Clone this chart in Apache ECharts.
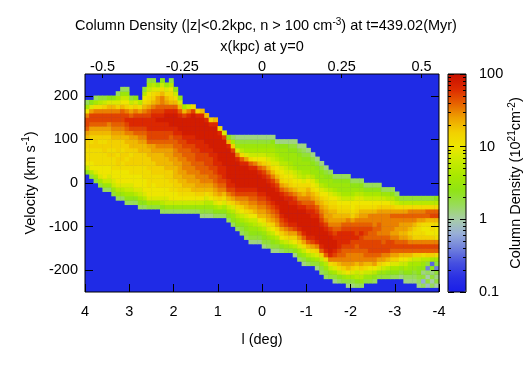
<!DOCTYPE html>
<html>
<head>
<meta charset="utf-8">
<style>
    html, body { margin: 0; padding: 0; background: #fff; }
    #chart { width: 525px; height: 367px; }
</style>
</head>
<body>
<div id="chart"></div>
<script src="https://cdn.jsdelivr.net/npm/echarts@6/dist/echarts.min.js"></script>
<script>
// Tick labels
const lTicks = [4, 3, 2, 1, 0, -1, -2, -3, -4];
const kpcTicks = [-0.5, -0.25, 0, 0.25, 0.5];
const velocityTicks = [-200, -100, 0, 100, 200];
const barMajor = [-1, 0, 1, 2];
const barMinor = [-0.699, -0.523, -0.398, -0.301, -0.222, -0.155, -0.097, -0.046,
    0.301, 0.477, 0.602, 0.699, 0.778, 0.845, 0.903, 0.954,
    1.301, 1.477, 1.602, 1.699, 1.778, 1.845, 1.903, 1.954];

// Column density, in tenths of a dex (0 = 1, 10 = 10, 20 = 100).
// One array per 0.1 deg column from l = 3.95 to l = -3.95, lowest velocity first.
// lowV is the velocity of the first cell of each column, cells are 10 km/s tall.
const lowV = [25, 15, 5, -5, -15, -15, -25, -35, -35, -45,
    -45, -45, -55, -55, -55, -55, -55, -65, -65, -65,
    -65, -65, -65, -65, -65, -65, -75, -75, -75, -75,
    -75, -75, -85, -95, -105, -115, -125, -135, -135, -135,
    -145, -145, -155, -155, -155, -155, -155, -165, -175, -185,
    -185, -185, -195, -205, -215, -215, -225, -225, -225, -235,
    -235, -235, -235, -225, -225, -225, -215, -215, -215, -215,
    -215, -215, -225, -225, -225, -235, -235, -235, -235, -235];
const c00 = [4,8,10,11,11,11,12,12,13,14,16,17,17,15,10,6,2];
const c01 = [3,7,10,10,11,11,11,12,11,12,13,14,16,17,17,14,9,4];
const c02 = [3,6,9,10,11,11,11,11,12,12,12,13,14,16,17,17,15,11,6,2];
const c03 = [3,6,9,10,10,11,11,11,11,12,11,12,13,14,16,17,17,15,11,7,3];
const c04 = [2,5,8,10,10,10,11,11,11,12,12,11,12,13,14,16,17,17,15,12,8,3];
const c05 = [2,5,8,9,10,10,11,11,12,11,12,12,12,13,14,15,17,17,15,13,9,4];
const c06 = [3,5,8,9,10,10,11,11,11,12,11,12,12,13,14,15,16,17,17,15,13,9,4];
const c07 = [2,5,7,9,10,10,10,11,12,12,11,12,12,12,13,14,15,16,17,17,15,12,9,6,2];
const c08 = [2,5,7,9,10,10,10,11,11,12,12,11,12,12,13,14,15,16,17,17,16,13,10,8,5,2];
const c09 = [2,4,6,8,9,10,10,10,11,12,11,12,12,12,13,13,15,16,17,18,17,15,12,10,8,5,2];
const c10 = [2,4,6,8,9,10,10,11,11,12,12,11,12,13,13,14,15,17,18,18,16,14,11,8,3];
const c11 = [2,4,7,9,10,10,10,11,11,12,12,12,12,13,13,14,16,17,18,18,17,15,12,9,4];
const c12 = [2,4,6,8,9,10,10,10,11,11,12,12,12,13,13,14,15,16,17,18,18,17,14,11,7];
const c13 = [2,4,7,9,10,10,10,11,11,11,12,12,12,13,13,14,15,16,17,18,18,17,15,13,11,10,7,3];
const c14 = [3,6,9,10,10,11,11,11,11,12,12,12,13,13,14,16,17,17,18,18,18,17,16,14,12,11,10,8,6,3];
const c15 = [3,6,9,10,10,10,11,11,12,12,12,13,13,14,14,16,17,17,18,18,18,18,17,15,13,12,11,9,7,3];
const c16 = [3,6,9,10,10,11,11,11,12,12,13,13,13,14,15,16,17,17,18,18,19,18,17,16,14,14,12,9,5];
const c17 = [2,4,7,9,10,10,11,11,11,12,12,13,13,13,14,15,16,17,17,18,18,19,18,17,16,15,15,13,11,8,4];
const c18 = [2,5,8,9,10,10,11,11,12,12,13,13,13,14,14,15,16,17,17,18,18,19,19,18,16,14,13,11,9,5];
const c19 = [2,5,8,10,10,11,11,12,12,12,13,13,14,14,14,15,16,16,17,18,19,19,19,18,16,13,12,11,10,7,3];
const c20 = [2,5,8,10,10,11,12,12,13,13,13,14,14,15,15,16,16,17,18,18,19,19,19,18,16,13,11,8,4];
const c21 = [2,5,8,10,11,12,12,13,13,14,14,14,15,15,16,16,17,17,18,19,19,19,18,16,13,9,4];
const c22 = [2,5,8,10,11,12,13,13,14,14,15,15,15,16,16,17,17,18,19,19,19,19,17,13,6];
const c23 = [2,5,8,10,11,12,13,14,14,15,15,15,16,16,16,17,18,18,19,19,19,19,18,15,8];
const c24 = [2,5,8,10,11,13,13,14,14,15,15,16,16,16,17,17,18,18,19,19,19,19,19,17,11];
const c25 = [2,5,8,10,12,13,14,14,15,15,16,16,17,17,17,18,18,19,19,19,19,19,18,12];
const c26 = [1,3,5,8,10,12,13,14,15,15,16,16,16,17,17,18,18,18,19,19,19,19,19,18,13];
const c27 = [1,3,5,7,9,11,13,14,15,15,16,16,17,17,17,18,18,19,19,19,19,19,18,13];
const c28 = [1,3,5,7,10,12,13,14,15,16,16,17,17,17,18,18,19,19,19,19,19,18,12];
const c29 = [2,4,6,9,11,13,14,15,16,16,17,17,18,18,18,19,19,19,19,19,19,18,13];
const c30 = [2,4,7,10,12,14,15,16,17,17,18,18,18,19,19,19,19,19,19,18,11];
const c31 = [2,4,6,9,11,13,15,16,17,18,18,18,19,19,19,19,19,19,17,9];
const c32 = [2,4,6,8,11,13,15,17,18,18,19,19,19,19,19,19,19,18,13,4];
const c33 = [2,4,5,7,9,12,14,16,17,18,19,19,19,19,19,19,19,17,12,6,2];
const c34 = [2,4,5,7,9,11,13,15,17,18,19,19,19,19,19,19,18,15,9,5,3,1];
const c35 = [2,3,4,6,8,10,12,14,15,17,18,19,19,19,19,19,18,16,11,7,5,3,1];
const c36 = [2,3,4,5,7,9,11,13,14,15,17,18,19,19,19,19,19,18,14,9,6,5,3,1];
const c37 = [1,3,4,5,6,8,10,12,14,15,16,17,18,19,19,19,19,18,16,11,8,6,5,3,1];
const c38 = [1,3,4,5,7,8,10,13,14,15,16,17,18,19,19,19,19,18,15,10,8,6,5,3,1];
const c39 = [1,3,4,6,8,10,13,14,15,16,17,18,19,19,19,19,18,16,13,10,8,6,5,3,1];
const c40 = [1,3,4,5,7,9,11,13,14,15,16,17,18,19,19,19,18,17,15,12,10,8,6,5,3,1];
const c41 = [2,3,5,7,9,11,13,14,15,16,17,18,19,19,19,18,17,15,13,11,9,7,6,5,3,1];
const c42 = [1,3,4,6,8,10,12,14,15,16,17,18,19,19,19,18,17,15,13,11,9,8,7,6,5,4,1];
const c43 = [1,3,5,7,10,12,14,15,16,17,18,19,19,19,18,17,15,13,11,10,9,7,6,5,4,1];
const c44 = [2,4,7,10,12,14,16,17,18,19,19,19,19,18,16,14,12,11,10,9,7,6,5,5,4,1];
const c45 = [3,5,8,11,13,15,17,18,19,19,19,19,18,17,15,13,11,10,9,8,7,5,5,5,4,1];
const c46 = [3,6,9,12,14,16,18,19,19,19,19,18,18,16,14,12,11,10,9,7,6,5,5,4,3,1];
const c47 = [1,4,7,10,12,14,17,18,19,19,19,19,18,17,15,13,11,10,9,8,6,5,5,5,4,3,1];
const c48 = [2,4,6,9,12,14,16,18,19,19,19,19,18,17,15,14,12,11,10,8,7,5,5,5,4,3,1];
const c49 = [1,3,5,8,11,14,16,18,19,19,19,19,19,18,16,15,13,12,11,9,7,6,5,5,4,3,2,1];
const c50 = [2,4,7,10,13,16,18,19,19,19,19,19,18,17,16,15,14,13,11,10,8,6,5,5,4,3,1];
const c51 = [3,5,8,11,14,17,18,19,19,19,19,18,18,17,16,14,13,11,10,9,7,5,5,4,3,1];
const c52 = [1,3,6,9,12,15,18,19,19,19,19,19,18,17,16,14,13,12,10,9,7,5,5,4,3,1];
const c53 = [2,3,5,8,12,16,18,19,19,19,19,18,17,16,15,14,13,12,10,9,7,5,5,4,3,1];
const c54 = [2,3,5,7,11,16,18,19,19,19,19,18,17,15,14,14,13,12,11,10,8,6,5,4,3,1];
const c55 = [3,5,8,11,15,18,19,19,19,19,18,17,15,14,14,13,12,11,10,9,7,5,5,4,2];
const c56 = [1,3,6,9,12,15,17,18,19,19,18,17,16,15,14,13,13,12,11,10,8,6,5,4,2];
const c57 = [2,4,8,11,13,15,16,17,18,18,18,18,16,15,14,13,12,11,10,9,7,5,5,4,2];
const c58 = [3,5,9,12,14,15,16,16,17,18,18,18,17,16,14,13,12,11,10,8,6,5,5,4,2];
const c59 = [1,3,6,10,13,14,15,15,16,17,18,18,18,17,16,15,13,12,11,10,8,6,5,5,4,2];
const c60 = [1,3,6,9,12,14,15,15,16,17,17,18,18,17,16,14,12,11,10,10,8,6,5,4,2];
const c61 = [2,4,7,8,11,13,15,15,16,16,17,18,17,17,16,15,13,12,11,10,9,7,5,4,2];
const c62 = [2,5,7,9,12,14,15,15,16,17,17,17,18,17,16,15,14,13,11,10,9,7,5,4,2];
const c63 = [3,5,8,11,13,15,16,16,17,17,16,17,17,16,15,14,13,11,10,8,6,4,2];
const c64 = [3,5,8,10,13,15,16,17,17,17,16,16,17,16,15,15,13,11,10,8,6,4,2];
const c65 = [2,4,7,10,14,15,16,17,17,17,16,16,16,15,15,15,13,11,10,8,6,4,2];
const c66 = [3,5,9,12,14,16,17,17,17,16,15,16,16,15,15,14,12,10,8,6,4,2];
const c67 = [3,5,8,11,14,15,17,17,16,16,15,15,15,15,15,14,12,10,8,5,2];
const c68 = [3,4,7,10,13,15,17,17,17,16,15,15,15,15,15,14,12,10,7,5,2];
const c69 = [2,4,6,9,12,14,16,17,17,15,14,15,15,15,16,14,12,9,7,4,2];
const c70 = [2,4,6,9,12,14,16,17,16,15,14,14,15,15,16,14,11,8,5,2];
const c71 = [1,3,5,8,10,13,16,17,16,14,13,14,14,15,16,14,11,7,3];
const c72 = [1,2,4,6,8,10,13,16,17,16,14,13,14,14,15,16,14,11,7,3];
const c73 = [1,2,4,5,6,9,13,16,17,15,13,12,13,14,15,16,15,11,7,3];
const c74 = [1,2,3,5,6,8,12,16,17,15,12,11,12,13,15,16,15,11,7,3];
const c75 = [1,2,3,4,4,6,8,12,16,17,15,12,11,11,12,14,16,15,11,7,3];
const c76 = [2,-2,3,1,4,5,7,11,16,17,15,12,11,10,11,14,16,15,11,7,3];
const c77 = [-1,3,0,2,-4,3,7,12,16,17,15,12,10,10,11,13,16,16,11,7,3];
const c78 = [2,0,3,1,4,-5,6,12,16,17,15,12,10,11,11,13,17,16,11,7,3];
const c79 = [0,3,1,3,-4,3,6,11,16,17,15,11,10,10,11,13,17,16,11,7,4];
const columns = [c00,c01,c02,c03,c04,c05,c06,c07,c08,c09,c10,c11,c12,c13,c14,c15,c16,c17,c18,c19,
    c20,c21,c22,c23,c24,c25,c26,c27,c28,c29,c30,c31,c32,c33,c34,c35,c36,c37,c38,c39,
    c40,c41,c42,c43,c44,c45,c46,c47,c48,c49,c50,c51,c52,c53,c54,c55,c56,c57,c58,c59,
    c60,c61,c62,c63,c64,c65,c66,c67,c68,c69,c70,c71,c72,c73,c74,c75,c76,c77,c78,c79];

const font = "Liberation Sans";
const fontSize = 14.5;
const black = "#000";
const plot = { left: 85, top: 74, width: 354, height: 218 };
const bar = { left: 448, top: 74, width: 18, height: 218 };

// Heatmap needs category axes, one band per cell
const lBins = columns.map((c, i) => i);
const vBins = [];
for (let v = -245; v <= 245; v += 10) vBins.push(v);

const cells = [];
columns.forEach((col, i) => {
    col.forEach((level, k) => {
        const row = (lowV[i] + k * 10 + 245) / 10;
        if (row >= 0 && row < vBins.length) cells.push([i, row, level]);
    });
});

const tickLine = { color: black, width: 1 };
const noLine = { show: false, onZero: false };
const supLabel = {
    color: black,
    fontFamily: font,
    fontSize,
    fontWeight: "normal",
    rich: {
        n: { fontFamily: font, fontSize, color: black, lineHeight: 18, fontWeight: "normal" },
        s: { fontFamily: font, fontSize: 10, color: black, verticalAlign: "top", lineHeight: 18, fontWeight: "normal" },
    },
};

const chart = echarts.init(document.getElementById("chart"), null, { renderer: "canvas" });
chart.setOption({
    animation: false,
    backgroundColor: "#fff",
    textStyle: { fontFamily: font },
    title: {
        text: "{n|Column Density (|z|<0.2kpc, n > 100 cm}{s|-3}{n|) at t=439.02(Myr)}",
        left: 261,
        top: 12,
        textAlign: "center",
        textStyle: supLabel,
    },
    grid: [
        { ...plot, backgroundColor: "#1f2be6", show: true, borderWidth: 0 },
        { ...plot, show: true, borderColor: black, borderWidth: 1, backgroundColor: "transparent", z: 5 },
        { ...bar, show: true, borderColor: black, borderWidth: 1, backgroundColor: "transparent", z: 5 },
    ],
    xAxis: [
        { type: "category", gridIndex: 0, data: lBins, show: false },
        {
            type: "value", gridIndex: 1, position: "bottom", inverse: true, min: -4, max: 4, interval: 1, z: 6,
            axisLine: noLine, splitLine: { show: false },
            axisTick: { inside: true, length: 8, lineStyle: tickLine, customValues: lTicks },
            axisLabel: { color: black, fontSize, margin: 12, customValues: lTicks },
            name: "l (deg)", nameLocation: "middle", nameGap: 40,
            nameTextStyle: { color: black, fontSize, fontFamily: font },
        },
        {
            type: "value", gridIndex: 1, position: "top", min: -0.555, max: 0.555, z: 6,
            axisLine: noLine, splitLine: { show: false },
            axisTick: { inside: true, length: 4, lineStyle: tickLine, customValues: kpcTicks },
            axisLabel: { color: black, fontSize, margin: 0, customValues: kpcTicks, formatter: (v) => String(v) },
            name: "x(kpc) at y=0", nameLocation: "middle", nameGap: 15,
            nameTextStyle: { color: black, fontSize, fontFamily: font },
        },
        { type: "value", gridIndex: 2, min: 0, max: 1, show: false },
    ],
    yAxis: [
        { type: "category", gridIndex: 0, data: vBins, show: false },
        {
            type: "value", gridIndex: 1, position: "left", min: -250, max: 250, z: 6,
            axisLine: noLine, splitLine: { show: false },
            axisTick: { inside: true, length: 8, lineStyle: tickLine, customValues: velocityTicks },
            axisLabel: { color: black, fontSize, margin: 7, customValues: velocityTicks },
            name: "{n|Velocity (km s}{s|-1}{n|)}", nameLocation: "middle", nameGap: 38, nameRotate: 90,
            nameTextStyle: supLabel,
        },
        {
            type: "value", gridIndex: 1, position: "right", min: -250, max: 250, z: 6,
            axisLine: noLine, splitLine: { show: false },
            axisTick: { inside: true, length: 8, lineStyle: tickLine, customValues: velocityTicks },
            axisLabel: { show: false },
        },
        {
            type: "value", gridIndex: 2, position: "right", min: -1, max: 2, z: 6,
            axisLine: noLine, splitLine: { show: false },
            axisTick: { inside: true, length: 6, lineStyle: tickLine, customValues: barMajor },
            axisLabel: {
                color: black, fontSize, margin: 13, customValues: barMajor,
                formatter: (v) => ({ "-1": "0.1", 0: "1", 1: "10", 2: "100" })[v],
            },
            name: "{n|Column Density (10}{s|21}{n|cm}{s|-2}{n|)}", nameLocation: "middle", nameGap: 41, nameRotate: 90,
            nameTextStyle: supLabel,
        },
        {
            type: "value", gridIndex: 2, position: "left", min: -1, max: 2, z: 6,
            axisLine: noLine, splitLine: { show: false },
            axisTick: { inside: true, length: 6, lineStyle: tickLine, customValues: barMajor },
            axisLabel: { show: false },
        },
        {
            type: "value", gridIndex: 2, position: "right", min: -1, max: 2, z: 6,
            axisLine: noLine, splitLine: { show: false },
            axisTick: { inside: true, length: 3, lineStyle: tickLine, customValues: barMinor },
            axisLabel: { show: false },
        },
        {
            type: "value", gridIndex: 2, position: "left", min: -1, max: 2, z: 6,
            axisLine: noLine, splitLine: { show: false },
            axisTick: { inside: true, length: 3, lineStyle: tickLine, customValues: barMinor },
            axisLabel: { show: false },
        },
    ],
    visualMap: {
        type: "continuous",
        seriesIndex: 0,
        min: -10,
        max: 20,
        left: bar.left,
        top: bar.top,
        itemWidth: bar.width,
        itemHeight: bar.height,
        padding: 0,
        calculable: false,
        realtime: false,
        text: null,
        showLabel: false,
        z: 3,
        inRange: {
            color: ["#1a1ee8", "#2a30e4", "#4650e0", "#7080dc", "#98aed8", "#a8cca8", "#98dc58", "#90e414",
                "#a8e800", "#c8ea00", "#eee600", "#f2d000", "#eea000", "#e66000", "#dc2800", "#c81000"],
        },
    },
    series: [
        {
            type: "heatmap",
            xAxisIndex: 0,
            yAxisIndex: 0,
            data: cells,
            progressive: 0,
            emphasis: { disabled: true },
        },
    ],
});
</script>
</body>
</html>
